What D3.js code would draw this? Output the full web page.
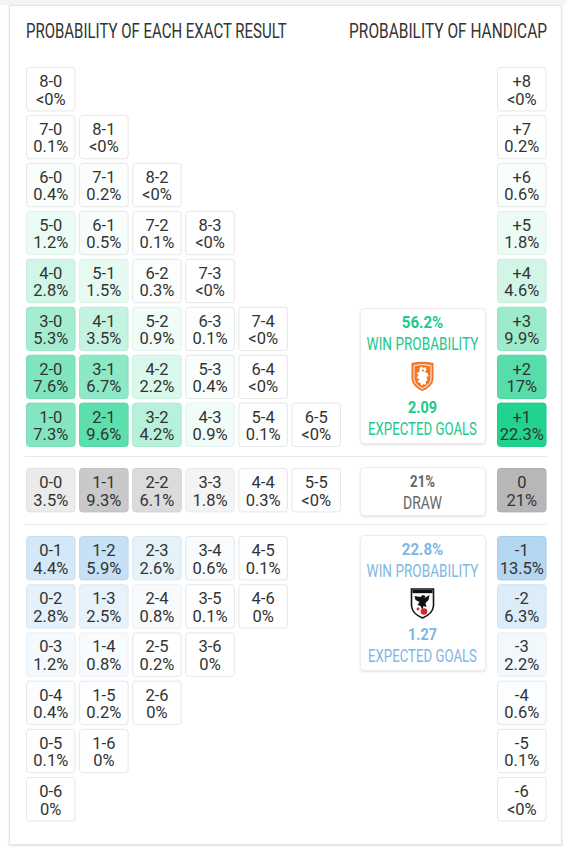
<!DOCTYPE html>
<html>
<head>
<meta charset="utf-8">
<style>
  body { margin: 0; background: #fff; }
  svg text { font-family: Roboto, "Noto Sans", sans-serif; fill: #333; }
  .cell text { font-size: 16.5px; text-anchor: middle; }
  .head { font-size: 19.5px; }
</style>
</head>
<body>
<div id="chart"></div>
<script src="https://cdn.jsdelivr.net/npm/d3@7"></script>
<script>
// exact results, one array per group: [score, probability label]
var homeResults = [
  ["8-0", "<0%"],
  ["7-0", "0.1%"], ["8-1", "<0%"],
  ["6-0", "0.4%"], ["7-1", "0.2%"], ["8-2", "<0%"],
  ["5-0", "1.2%"], ["6-1", "0.5%"], ["7-2", "0.1%"], ["8-3", "<0%"],
  ["4-0", "2.8%"], ["5-1", "1.5%"], ["6-2", "0.3%"], ["7-3", "<0%"],
  ["3-0", "5.3%"], ["4-1", "3.5%"], ["5-2", "0.9%"], ["6-3", "0.1%"], ["7-4", "<0%"],
  ["2-0", "7.6%"], ["3-1", "6.7%"], ["4-2", "2.2%"], ["5-3", "0.4%"], ["6-4", "<0%"],
  ["1-0", "7.3%"], ["2-1", "9.6%"], ["3-2", "4.2%"], ["4-3", "0.9%"], ["5-4", "0.1%"], ["6-5", "<0%"]
];
var drawResults = [
  ["0-0", "3.5%"], ["1-1", "9.3%"], ["2-2", "6.1%"], ["3-3", "1.8%"], ["4-4", "0.3%"], ["5-5", "<0%"]
];
var awayResults = [
  ["0-1", "4.4%"], ["1-2", "5.9%"], ["2-3", "2.6%"], ["3-4", "0.6%"], ["4-5", "0.1%"],
  ["0-2", "2.8%"], ["1-3", "2.5%"], ["2-4", "0.8%"], ["3-5", "0.1%"], ["4-6", "0%"],
  ["0-3", "1.2%"], ["1-4", "0.8%"], ["2-5", "0.2%"], ["3-6", "0%"],
  ["0-4", "0.4%"], ["1-5", "0.2%"], ["2-6", "0%"],
  ["0-5", "0.1%"], ["1-6", "0%"],
  ["0-6", "0%"]
];
// handicap (goal difference) probabilities
var handicaps = [
  ["+8", "<0%"], ["+7", "0.2%"], ["+6", "0.6%"], ["+5", "1.8%"], ["+4", "4.6%"],
  ["+3", "9.9%"], ["+2", "17%"], ["+1", "22.3%"], ["0", "21%"],
  ["-1", "13.5%"], ["-2", "6.3%"], ["-3", "2.2%"], ["-4", "0.6%"], ["-5", "0.1%"], ["-6", "<0%"]
];
// summary boxes
var homeSummary = ["56.2%", "WIN PROBABILITY", "2.09", "EXPECTED GOALS"];
var drawSummary = ["21%", "DRAW"];
var awaySummary = ["22.8%", "WIN PROBABILITY", "1.27", "EXPECTED GOALS"];

var W = 566, H = 850;
var svg = d3.select("#chart").append("svg")
    .attr("width", W)
    .attr("height", H);

var defs = svg.append("defs");
var f = defs.append("filter").attr("id", "shadow")
    .attr("x", "-10%").attr("y", "-10%").attr("width", "120%").attr("height", "130%");
f.append("feDropShadow")
    .attr("dx", 0).attr("dy", 1).attr("stdDeviation", 1.2)
    .attr("flood-color", "#000").attr("flood-opacity", 0.12);

// the font is condensed in the original: squeeze text horizontally to a target width
function narrow(parent, x, y, str, width, anchor) {
  var g = parent.append("g");
  var t = g.append("text")
      .attr("x", 0).attr("y", 0)
      .style("text-anchor", anchor || "middle")
      .text(str);
  return {
    g: g, t: t, fit: function () {
      var len = t.node().getComputedTextLength();
      g.attr("transform", "translate(" + x + "," + y + ") scale(" + (width / len) + ",1)");
      return this;
    }
  };
}

// card
svg.append("rect")
    .attr("x", 0).attr("y", 0).attr("width", W).attr("height", 5)
    .attr("fill", "#f4f4f4");
svg.append("rect")
    .attr("x", 9.5).attr("y", 5.5)
    .attr("width", 552).attr("height", 839)
    .attr("fill", "#fff")
    .attr("stroke", "#e4e4e4")
    .attr("filter", "url(#shadow)");

// headers
var h1 = narrow(svg, 26, 37.5, "PROBABILITY OF EACH EXACT RESULT", 261, "start");
h1.t.attr("class", "head"); h1.fit();
var h2 = narrow(svg, 547, 37.5, "PROBABILITY OF HANDICAP", 198, "end");
h2.t.attr("class", "head"); h2.fit();

function pct(s) { return s.charAt(0) === "<" ? 0 : parseFloat(s); }
function goals(s) { return s.split("-").map(Number); }

// scales
var x = d3.scaleBand().domain(d3.range(6)).range([26, 341]).paddingInner(0.067);
var xHcp = 497;
var yHome = d3.scaleBand().domain([8, 7, 6, 5, 4, 3, 2, 1]).range([67, 447]).paddingInner(0.074);
var yDraw = 468;
var yAway = d3.scaleBand().domain([1, 2, 3, 4, 5, 6]).range([536, 821.6]).paddingInner(0.076);
var cw = x.bandwidth(), ch = yHome.bandwidth();

var GREEN = "#22d38f", GRAY = "#b3b3b3", BLUE = "#82bce8";
var greenExact = d3.scaleLinear().domain([0, 13]).range(["#ffffff", GREEN]).clamp(true);
var grayExact  = d3.scaleLinear().domain([0, 13]).range(["#ffffff", GRAY]).clamp(true);
var blueExact  = d3.scaleLinear().domain([0, 13]).range(["#ffffff", BLUE]).clamp(true);
var greenHcp = d3.scaleLinear().domain([0, 22.3]).range(["#ffffff", GREEN]).clamp(true);
var grayHcp  = d3.scaleLinear().domain([0, 22.3]).range(["#ffffff", GRAY]).clamp(true);
var blueHcp  = d3.scaleLinear().domain([0, 22.3]).range(["#ffffff", BLUE]).clamp(true);

function drawCells(data, px, py, color) {
  var g = svg.append("g").selectAll("g.cell")
    .data(data)
    .join("g")
      .attr("class", "cell")
      .attr("transform", function (d) { return "translate(" + px(d) + "," + py(d) + ")"; });
  g.append("rect")
      .attr("x", 0.5).attr("y", 0.5)
      .attr("width", cw - 1).attr("height", ch - 1)
      .attr("rx", 3)
      .attr("fill", function (d) { return color(pct(d[1])); })
      .attr("stroke", function (d) {
        var v = pct(d[1]);
        return v > 0.6 ? d3.color(color(v)).darker(0.12) : "#e6e6e6";
      });
  g.append("text")
      .attr("x", cw / 2).attr("y", 20)
      .text(function (d) { return d[0]; });
  g.append("text")
      .attr("x", cw / 2).attr("y", 37.5)
      .text(function (d) { return d[1]; });
}

drawCells(homeResults,
  function (d) { return x(goals(d[0])[1]); },
  function (d) { var s = goals(d[0]); return yHome(s[0] - s[1]); },
  greenExact);
drawCells(drawResults,
  function (d) { return x(goals(d[0])[0]); },
  function () { return yDraw; },
  grayExact);
drawCells(awayResults,
  function (d) { return x(goals(d[0])[0]); },
  function (d) { var s = goals(d[0]); return yAway(s[1] - s[0]); },
  blueExact);

drawCells(handicaps.filter(function (d) { return +d[0] > 0; }),
  function () { return xHcp; },
  function (d) { return yHome(+d[0]); },
  greenHcp);
drawCells(handicaps.filter(function (d) { return +d[0] === 0; }),
  function () { return xHcp; },
  function () { return yDraw; },
  grayHcp);
drawCells(handicaps.filter(function (d) { return +d[0] < 0; }),
  function () { return xHcp; },
  function (d) { return yAway(-d[0]); },
  blueHcp);

// separators
[456, 524].forEach(function (yy) {
  svg.append("line")
      .attr("x1", 25).attr("x2", 547)
      .attr("y1", yy + 0.5).attr("y2", yy + 0.5)
      .attr("stroke", "#e8e8e8");
});

// summary boxes
var bx = 360, bw = 125, bcx = bx + bw / 2;

function summaryBox(top, h, lines, color, logo) {
  var g = svg.append("g").attr("class", "box");
  g.append("rect")
      .attr("x", bx + 0.5).attr("y", top + 0.5)
      .attr("width", bw).attr("height", h)
      .attr("rx", 4)
      .attr("fill", "#fff")
      .attr("stroke", "#ececec")
      .attr("filter", "url(#shadow)");
  var a = narrow(g, bcx, top + 19.5, lines[0], lines[0].length * 8.3);
  a.t.style("font-size", "17px").style("font-weight", "bold").style("fill", color);
  a.fit();
  var b = narrow(g, bcx, top + 42, lines[1], lines[1] === "DRAW" ? 39 : 112);
  b.t.style("font-size", "18px").style("fill", color);
  b.fit();
  if (lines.length > 2) {
    var c = narrow(g, bcx, top + 104.5, lines[2], 29);
    c.t.style("font-size", "17px").style("font-weight", "bold").style("fill", color);
    c.fit();
    var e = narrow(g, bcx, top + 127, lines[3], 109);
    e.t.style("font-size", "18px").style("fill", color);
    e.fit();
    logo(g.append("g").attr("transform", "translate(" + bcx + "," + (top + 68) + ")"));
  }
}

var shield = "M-11,-13 Q0,-15.5 11,-13 L11,3 Q10,11 0,15 Q-10,11 -11,3 Z";

function knvb(g) {
  g.append("path").attr("d", shield).attr("fill", "#f0772a");
  g.append("path")
      .attr("d", "M-8.5,-10.5 Q0,-12.5 8.5,-10.5 L8.5,3 Q7.5,9.5 0,12.5 Q-7.5,9.5 -8.5,3 Z")
      .attr("fill", "none").attr("stroke", "#fff").attr("stroke-width", 0.9);
  // lion
  g.append("path")
      .attr("d", "M-3,-8 L-1,-9.5 L1,-8 L3,-9 L4,-6 L2,-4 L5,-3 L6,0 L4,1 L5,4 L3,6 L4,9 L1,8 L-1,10 L-2,7 L-5,6 L-3,3 L-6,2 L-4,-1 L-6,-3 L-3,-4 Z")
      .attr("fill", "#fff");
  g.append("circle").attr("cx", 0.5).attr("cy", -5.5).attr("r", 1.1).attr("fill", "#f0772a");
}

function jfa(g) {
  g.append("path")
      .attr("d", "M-11,-14 L11,-14 L11,3 Q10,11 0,15 Q-10,11 -11,3 Z")
      .attr("fill", "#fff").attr("stroke", "#111").attr("stroke-width", 1.6);
  g.append("rect").attr("x", -10).attr("y", -13).attr("width", 20).attr("height", 3.2).attr("fill", "#111");
  // crow
  g.append("path")
      .attr("d", "M-8,-7 L-2,-6 L0,-8 L3,-7 L2,-5 L7,-8 L6,-3 L3,0 L4,4 L1,3 L0,7 L-2,3 L-5,2 L-3,-1 L-7,-3 Z")
      .attr("fill", "#111");
  g.append("circle").attr("cx", 1.5).attr("cy", 8.5).attr("r", 3.3).attr("fill", "#d9262c");
  g.append("circle").attr("cx", -4.5).attr("cy", 6).attr("r", 1.4).attr("fill", "#d9262c");
}

summaryBox(308, 135, homeSummary, "#20c98a", knvb);
summaryBox(467, 48, drawSummary, "#666", null);
summaryBox(535, 135, awaySummary, "#7fb6e2", jfa);
</script>
</body>
</html>
